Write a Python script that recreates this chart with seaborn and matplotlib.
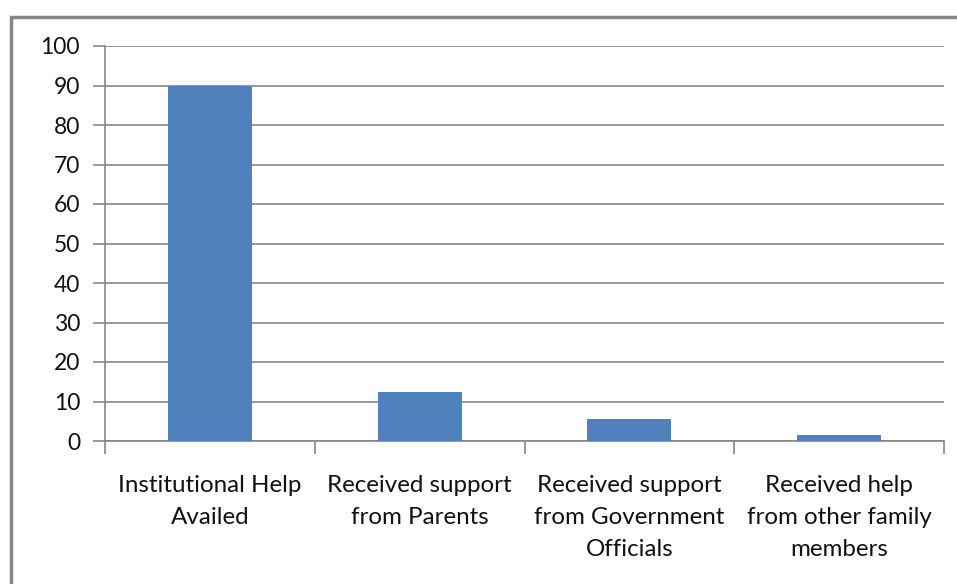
import matplotlib
matplotlib.use("Agg")
import matplotlib.pyplot as plt
import seaborn as sns
import pandas as pd
from matplotlib.patches import Rectangle

categories = [
    "Institutional Help\nAvailed",
    "Received support\nfrom Parents",
    "Received support\nfrom Government\nOfficials",
    "Received help\nfrom other family\nmembers",
]
values = [90, 12.4, 5.6, 1.5]
yticks = [0, 10, 20, 30, 40, 50, 60, 70, 80, 90, 100]

sns.set_theme(style="white")
plt.rcParams["font.family"] = ["Lato", "DejaVu Sans"]

W, H = 957, 584
fig = plt.figure(figsize=(W / 100, H / 100), dpi=100)
fig.patch.set_facecolor("white")

# outer chart frame
fig.patches.append(Rectangle((11 / W, -0.1), 1.1, 1 - 17 / H + 0.1,
                             transform=fig.transFigure, fill=False,
                             edgecolor="#868686", linewidth=2.5, zorder=0))

ax = fig.add_axes([105 / W, 1 - 441 / H, (944 - 105) / W, (441 - 46) / H])
df = pd.DataFrame({"cat": categories, "val": values})
sns.barplot(data=df, x="cat", y="val", ax=ax, color="#4F81BD",
            saturation=1, width=0.4, linewidth=0, zorder=3)

ax.set_ylim(0, 100)
ax.set_xlim(-0.5, 3.5)
ax.set_yticks(yticks)
ax.set_yticklabels([str(t) for t in yticks])
ax.yaxis.grid(True, color="#868686", linewidth=1.2)
ax.set_axisbelow(True)
ax.set_xlabel("")
ax.set_ylabel("")

for side in ["top", "right"]:
    ax.spines[side].set_visible(False)
for side in ["left", "bottom"]:
    ax.spines[side].set_color("#868686")
    ax.spines[side].set_linewidth(1.2)

ax.set_xticks([-0.5, 0.5, 1.5, 2.5, 3.5], minor=False)
ax.set_xticklabels([])
ax.set_xticks([0, 1, 2, 3], minor=True)
ax.set_xticklabels(categories, minor=True, fontsize=17.4, color="#111111",
                   va="top")
for lab in ax.get_xticklabels(minor=True):
    lab.set_linespacing(1.66)
ax.tick_params(axis="x", which="major", length=9, width=1.2, color="#868686",
               bottom=True, direction="out")
ax.tick_params(axis="x", which="minor", length=0, pad=24.5)
ax.tick_params(axis="y", length=9, width=1.2, color="#868686", left=True,
               labelsize=16.5, labelcolor="#111111", pad=9)

fig.savefig("out.png", dpi=100, facecolor="white")
